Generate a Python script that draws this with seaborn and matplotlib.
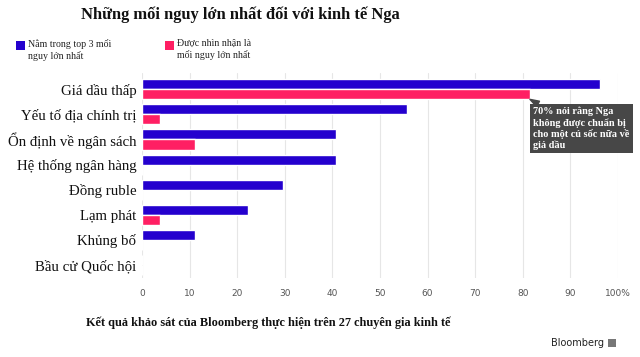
import matplotlib
matplotlib.use("Agg")
import matplotlib.pyplot as plt
import seaborn as sns
import pandas as pd
from matplotlib.patches import Rectangle

categories = ["Giá dầu thấp", "Yếu tố địa chính trị", "Ổn định về ngân sách",
              "Hệ thống ngân hàng", "Đồng ruble", "Lạm phát", "Khủng bố",
              "Bầu cử Quốc hội"]
top3 = [96.3, 55.6, 40.7, 40.7, 29.6, 22.2, 11.1, 0.0]
biggest = [81.5, 3.7, 11.1, 0.0, 0.0, 3.7, 0.0, 0.0]
series_names = ["Nằm trong top 3 mối\nnguy lớn nhất", "Được nhìn nhận là\nmối nguy lớn nhất"]
xticks = [0, 10, 20, 30, 40, 50, 60, 70, 80, 90, 100]
xtick_labels = ["0", "10", "20", "30", "40", "50", "60", "70", "80", "90", "100%"]

df = pd.DataFrame({
    "cat": categories * 2,
    "val": top3 + biggest,
    "series": [series_names[0]] * len(categories) + [series_names[1]] * len(categories),
})

sns.set_theme(style="white")
plt.rcParams["font.family"] = ["Liberation Serif", "DejaVu Serif"]

colors = ["#2400CE", "#FF1F63"]
fig = plt.figure(figsize=(6.4, 3.57), dpi=100)
ax = fig.add_axes([142/640, 1-278/357, (618-142)/640, (278-73)/357])

sns.barplot(data=df, x="val", y="cat", hue="series", order=categories,
            hue_order=series_names, palette=colors, orient="h",
            width=0.8, saturation=1, ax=ax, legend=False, errorbar=None)

ax.set_xlim(0, 100)
ax.set_ylim(7.52, -0.65)
ax.set_xticks(xticks)
ax.set_xticklabels(xtick_labels, fontfamily="DejaVu Sans", fontsize=6.5, color="#555555")
ax.tick_params(axis="x", length=0, pad=8)
ax.tick_params(axis="y", length=0, pad=4, labelsize=10.7, labelcolor="#111111")
ax.set_xlabel("")
ax.set_ylabel("")
for s in ax.spines.values():
    s.set_visible(False)
ax.grid(axis="x", color="#e6e6e6", linewidth=0.8)
ax.set_axisbelow(True)

# Title
fig.text(240/640, 1-15/357, "Những mối nguy lớn nhất đối với kinh tế Nga",
         ha="center", va="center", fontsize=11.9, fontweight="bold", color="#111111")

# Legend
for xpix, col, lab in [(16, colors[0], series_names[0]), (165, colors[1], series_names[1])]:
    fig.patches.append(Rectangle((xpix/640, 1-50/357), 9/640, 9/357,
                                 transform=fig.transFigure, facecolor=col, edgecolor="none"))
    fig.text((xpix+12)/640, 1-39/357, lab, ha="left", va="top", fontsize=7.1,
             color="#222222", linespacing=1.2)

# Annotation
ax.annotate("70% nói rằng Nga\nkhông được chuẩn bị\ncho một cú sốc nữa về\ngiá dầu",
            xy=(biggest[0], 0.4), xytext=(2.5, -5.5), textcoords="offset points",
            ha="left", va="top", fontsize=7.4, fontweight="bold", color="white",
            linespacing=1.2, annotation_clip=False,
            bbox=dict(boxstyle="square,pad=0.3", facecolor="#474747", edgecolor="none"),
            arrowprops=dict(arrowstyle="wedge,tail_width=0.6", color="#474747",
                            shrinkA=0, shrinkB=0))

# Footer
fig.text(268/640, 1-323/357,
         "Kết quả khảo sát của Bloomberg thực hiện trên 27 chuyên gia kinh tế",
         ha="center", va="center", fontsize=8.8, fontweight="bold", color="#111111")
fig.text(604/640, 1-343/357, "Bloomberg", ha="right", va="center",
         fontfamily="DejaVu Sans", fontsize=7, color="#222222")
fig.patches.append(Rectangle((608/640, 1-347/357), 8/640, 8/357,
                             transform=fig.transFigure, facecolor="#777777", edgecolor="none"))

fig.savefig("out.png", dpi=100)
